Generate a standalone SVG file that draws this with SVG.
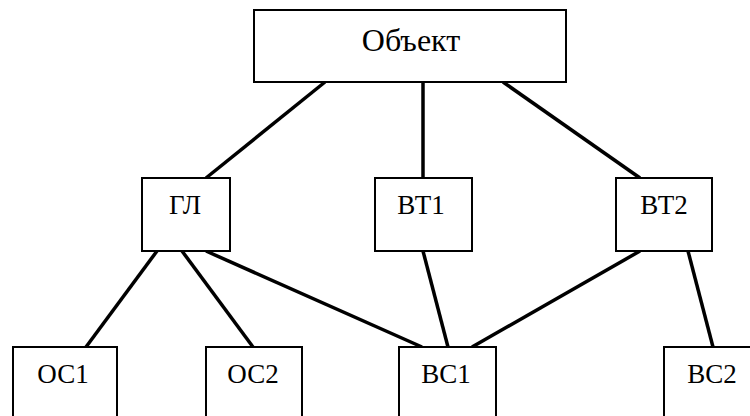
<svg xmlns="http://www.w3.org/2000/svg" width="750" height="416" viewBox="0 0 750 416">
<style>
.box{fill:#fff;stroke:#000;stroke-width:2}
text{font-family:'Liberation Serif','Times New Roman',serif;font-size:27px;fill:#000;text-anchor:middle}
text.big{font-size:32px}
.con line{stroke:#000;stroke-width:3.5;stroke-linecap:butt}
</style>
<rect width="750" height="416" fill="#fff"/>
<g id="connectors" class="con">
<line x1="325" y1="82" x2="206" y2="178"/>
<line x1="423" y1="82" x2="423" y2="178"/>
<line x1="503" y1="82" x2="640" y2="178"/>
<line x1="157" y1="251" x2="86" y2="347"/>
<line x1="182" y1="251" x2="253" y2="347"/>
<line x1="206" y1="251" x2="422" y2="347"/>
<line x1="423" y1="251" x2="448" y2="347"/>
<line x1="640" y1="251" x2="472" y2="347"/>
<line x1="688" y1="251" x2="713" y2="347"/>
</g>
<g id="obj"><rect class="box" x="254" y="10" width="312" height="72"/><text class="big" x="411" y="51">Объект</text></g>
<g id="gl"><rect class="box" x="142" y="178" width="88" height="73"/><text x="185" y="214">ГЛ</text></g>
<g id="bt1"><rect class="box" x="375" y="178" width="97" height="73"/><text x="421" y="214">ВТ1</text></g>
<g id="bt2"><rect class="box" x="616" y="178" width="96" height="73"/><text x="664" y="214">ВТ2</text></g>
<g id="oc1"><rect class="box" x="13" y="347" width="104" height="80"/><text x="63" y="383">ОС1</text></g>
<g id="oc2"><rect class="box" x="206" y="347" width="96" height="80"/><text x="253" y="383">ОС2</text></g>
<g id="bc1"><rect class="box" x="399" y="347" width="97" height="80"/><text x="446" y="383">ВС1</text></g>
<g id="bc2"><rect class="box" x="664" y="347" width="97" height="80"/><text x="712" y="383">ВС2</text></g>
</svg>
